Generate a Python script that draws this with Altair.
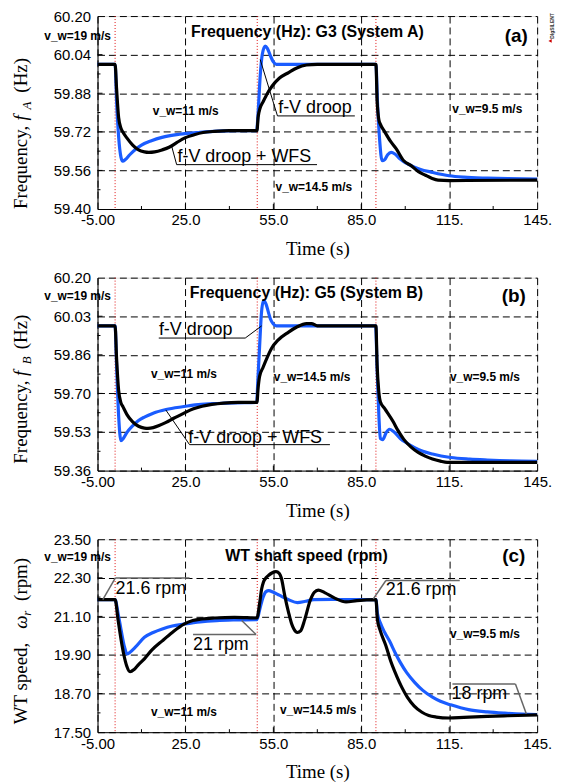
import altair as alt
import pandas as pd

# ---------------- data ----------------
X_DOMAIN = [-5, 145]
X_TICKS = [-5, 25, 55, 85, 115, 145]
X_MINOR = [10, 40, 70, 100, 130]
EVENTS = [1, 49.5, 90]

# Panel (a): frequency G3, System A
A_BLUE_T = [-5, 1.0, 1.5, 2.2, 3.0, 3.6, 4.5, 6, 8, 10, 13.4, 17, 23, 30, 36, 42, 49.3, 49.8, 50.5, 51.2, 52.2, 53, 54, 55, 56, 60, 90, 90.5, 91.3, 92.1, 93, 94, 95.2, 96.5, 98.3, 100, 102, 105, 109.3, 115, 120, 128, 135, 145]
A_BLUE_V = [60.0, 60.0, 59.85, 59.70, 59.615, 59.598, 59.605, 59.625, 59.648, 59.665, 59.683, 59.697, 59.71, 59.718, 59.723, 59.725, 59.725, 59.80, 59.95, 60.04, 60.076, 60.065, 60.035, 60.01, 60.0, 60.0, 60.0, 59.85, 59.68, 59.60, 59.605, 59.625, 59.635, 59.628, 59.607, 59.592, 59.58, 59.565, 59.552, 59.538, 59.532, 59.528, 59.526, 59.524]
A_BLACK_T = [-5, 1.0, 1.5, 2.2, 3.0, 3.6, 5, 7, 9, 11, 12.5, 14.5, 17, 19.6, 22, 24.8, 28, 31, 35, 40, 49.4, 49.8, 50.5, 51.5, 53, 54.6, 57, 60.2, 63, 66.3, 70, 90, 90.4, 91.0, 91.5, 93, 95, 97, 99.5, 102, 104.5, 106.9, 109, 111.2, 115, 145]
A_BLACK_V = [60.0, 60.0, 59.90, 59.78, 59.735, 59.72, 59.695, 59.665, 59.645, 59.637, 59.635, 59.637, 59.645, 59.657, 59.675, 59.695, 59.708, 59.717, 59.722, 59.725, 59.725, 59.78, 59.82, 59.845, 59.88, 59.91, 59.942, 59.966, 59.985, 59.997, 60.0, 60.0, 59.85, 59.77, 59.752, 59.72, 59.68, 59.648, 59.60, 59.58, 59.555, 59.54, 59.528, 59.52, 59.518, 59.52]
A_Y_DOMAIN = [59.40, 60.20]
A_Y_TICKS = [59.40, 59.56, 59.72, 59.88, 60.04, 60.20]
A_BOLD_TEXT = ["Frequency (Hz): G3 (System A)", "(a)", "v_w=19 m/s", "v_w=11 m/s", "v_w=14.5 m/s", "v_w=9.5 m/s"]
A_BOLD_T = [66.6, 137.9, -11.8, 25.1, 68.8, 128.0]
A_BOLD_V = [60.134, 60.118, 60.118, 59.807, 59.491, 59.814]
A_BOLD_SIZE = [16, 19, 12, 12, 12, 12]
A_BIG_TEXT = ["f-V droop", "f-V droop + WFS"]
A_BIG_T = [69.2, 45.1]
A_BIG_V = [59.817, 59.614]
A_LINE_T = [56.4, 56.4, 22.0, 22.0]
A_LINE_V = [59.786, 59.786, 59.584, 59.584]
A_LINE_T2 = [82.8, 50.5, 69.9, 20.2]
A_LINE_V2 = [59.786, 60.02, 59.584, 59.665]

# Panel (b): frequency G5, System B
B_BLUE_T = [-5, 1.0, 1.5, 2.2, 3.0, 3.8, 5, 7, 9, 11, 14, 18.4, 24, 29.4, 36, 42, 49.3, 49.7, 50.3, 50.9, 51.6, 52.5, 53.3, 54, 55, 56, 60, 89.9, 90.4, 91, 91.5, 92.3, 93.5, 94.6, 96, 98.3, 100.5, 103.2, 106, 109.3, 115.5, 122, 128, 136, 145]
B_BLUE_V = [59.99, 59.99, 59.82, 59.60, 59.49, 59.50, 59.525, 59.555, 59.578, 59.593, 59.61, 59.626, 59.638, 59.647, 59.652, 59.655, 59.657, 59.75, 59.90, 60.04, 60.10, 60.085, 60.05, 60.02, 59.998, 59.99, 59.99, 59.99, 59.80, 59.60, 59.50, 59.495, 59.525, 59.54, 59.53, 59.50, 59.48, 59.46, 59.444, 59.432, 59.417, 59.41, 59.406, 59.402, 59.40]
B_BLACK_T = [-5, 1.0, 1.5, 2.2, 3.0, 3.6, 5, 7, 9, 11, 12.2, 14, 16, 18.4, 21, 24.5, 27.5, 30.7, 34, 38, 43, 49.4, 49.8, 50.3, 51.5, 52.8, 54.5, 56.5, 60.2, 63, 66.3, 68, 70, 90, 90.4, 91, 91.5, 93, 95.8, 97.5, 99.5, 102, 104.4, 107, 109.3, 112, 114.3, 145]
B_BLACK_V = [59.99, 59.99, 59.85, 59.71, 59.655, 59.64, 59.605, 59.572, 59.553, 59.545, 59.544, 59.547, 59.556, 59.57, 59.588, 59.61, 59.628, 59.64, 59.648, 59.654, 59.657, 59.657, 59.72, 59.77, 59.81, 59.85, 59.895, 59.927, 59.963, 59.985, 60.0, 60.0, 59.99, 59.99, 59.82, 59.70, 59.66, 59.63, 59.575, 59.535, 59.496, 59.462, 59.439, 59.422, 59.41, 59.401, 59.396, 59.396]
B_Y_DOMAIN = [59.36, 60.20]
B_Y_TICKS = [59.36, 59.528, 59.696, 59.864, 60.032, 60.20]
B_BOLD_TEXT = ["Frequency (Hz): G5 (System B)", "(b)", "v_w=19 m/s", "v_w=11 m/s", "v_w=14.5 m/s", "v_w=9.5 m/s"]
B_BOLD_T = [66.3, 137.0, -11.8, 24.5, 68.2, 127.2]
B_BOLD_V = [60.134, 60.12, 60.12, 59.782, 59.768, 59.768]
B_BOLD_SIZE = [16, 19, 12, 12, 12, 12]
B_BIG_TEXT = ["f-V droop", "f-V droop + WFS"]
B_BIG_T = [28.5, 48.8]
B_BIG_V = [59.973, 59.502]
B_LINE_T = [15.9, 45.4, 26.4, 26.4]
B_LINE_V = [59.937, 59.937, 59.473, 59.473]
B_LINE_T2 = [45.4, 51.0, 74.3, 18.3]
B_LINE_V2 = [59.937, 59.99, 59.473, 59.624]

# Panel (c): WT shaft speed
C_BLUE_T = [-5, 1.0, 2, 3, 4.2, 5.1, 6, 8, 11, 14, 17.1, 20.5, 24.5, 30, 35.6, 42, 49.4, 50.3, 51.5, 52.5, 53.4, 55, 57, 60.2, 63.2, 66, 68.8, 75, 80, 90, 90.5, 91.5, 93, 94.6, 96.5, 98.3, 100.5, 103.2, 106, 109.3, 112, 115.5, 121.6, 128, 133.9, 140, 145]
C_BLUE_V = [21.62, 21.62, 21.2, 20.7, 20.15, 19.93, 19.98, 20.15, 20.45, 20.6, 20.71, 20.8, 20.86, 20.93, 20.97, 20.99, 21.0, 21.3, 21.7, 21.87, 21.9, 21.85, 21.76, 21.62, 21.53, 21.57, 21.62, 21.63, 21.62, 21.62, 21.2, 20.9, 20.6, 20.34, 19.98, 19.67, 19.35, 19.05, 18.8, 18.59, 18.46, 18.35, 18.2, 18.13, 18.09, 18.06, 18.05]
C_BLACK_T = [-5, 1.0, 2, 3, 4, 5, 6.1, 7.5, 9, 11, 13.5, 17.1, 20.5, 24.5, 27.5, 30.7, 35, 41.7, 46, 49.4, 50.3, 51.0, 51.6, 52.5, 53.4, 54.5, 55.9, 57, 57.7, 58.9, 60.2, 61.2, 62, 63.2, 64.3, 65.7, 67.5, 69, 70.3, 72.5, 76.1, 79.8, 83.5, 90, 90.5, 91.5, 93.4, 95, 97, 98.8, 100.7, 103, 105.7, 108, 110.6, 114.9, 120, 128, 135, 145]
C_BLACK_V = [21.62, 21.62, 21.0, 20.4, 19.9, 19.55, 19.38, 19.45, 19.6, 19.78, 20.05, 20.34, 20.6, 20.86, 20.97, 21.02, 21.05, 21.07, 21.06, 21.05, 21.5, 21.95, 22.16, 22.3, 22.38, 22.45, 22.49, 22.44, 22.3, 21.74, 21.22, 20.88, 20.71, 20.60, 20.65, 21.0, 21.58, 21.85, 21.92, 21.84, 21.66, 21.55, 21.59, 21.62, 21.0, 20.65, 20.19, 19.72, 19.26, 18.9, 18.59, 18.32, 18.12, 18.02, 17.97, 17.94, 17.96, 17.99, 18.01, 18.04]
C_Y_DOMAIN = [17.5, 23.5]
C_Y_TICKS = [17.5, 18.7, 19.9, 21.1, 22.3, 23.5]
C_BOLD_TEXT = ["WT shaft speed (rpm)", "(c)", "v_w=19 m/s", "v_w=9.5 m/s", "v_w=11 m/s", "v_w=14.5 m/s"]
C_BOLD_T = [66.3, 137.0, -11.8, 127.2, 24.5, 70.3]
C_BOLD_V = [22.99, 22.99, 22.96, 20.556, 18.14, 18.19]
C_BOLD_SIZE = [16, 19, 12, 12, 12, 12]
C_BIG_TEXT = ["21.6 rpm", "21 rpm", "21.6 rpm", "18 rpm"]
C_BIG_T = [13.2, 37.1, 105.4, 125.3]
C_BIG_V = [21.936, 20.214, 21.905, 18.69]
C_LINE_T = [1.1, 1.1, 27.6, 49.1, 93.4, 93.4, 116.1, 137.6]
C_LINE_V = [22.297, 22.297, 20.537, 20.537, 22.216, 22.216, 19.0, 19.0]
C_LINE_T2 = [26.4, -3.2, 49.1, 44.2, 118.6, 89.1, 137.6, 141.3]
C_LINE_V2 = [22.297, 21.625, 20.537, 20.97, 22.216, 21.644, 19.0, 18.07]

# ---------------- style ----------------
W, H = 442, 194
BLUE = "#1a5cff"
SANS = "Liberation Sans"
SERIF = "Liberation Serif"
X_LABEL_EXPR = ("datum.value < 0 ? '-5.00' : (datum.value >= 100 ? "
                "format(datum.value, 'd') + '.' : format(datum.value, '.1f'))")


def make_panel(blue_t, blue_v, black_t, black_v, ydom, yticks,
               bold_text, bold_t, bold_v, bold_size,
               big_text, big_t, big_v,
               line_t, line_v, line_t2, line_v2, line_color, line_width,
               ytitle, logo=False):
    xs = alt.Scale(domain=X_DOMAIN, nice=False, zero=False)
    ys = alt.Scale(domain=ydom, nice=False, zero=False)
    xaxis = alt.Axis(values=X_TICKS, grid=True, gridDash=[7, 4], gridColor="black",
                     gridWidth=1, gridOpacity=1, ticks=False, domainColor="black",
                     domainWidth=1, labelExpr=X_LABEL_EXPR, labelFont=SANS,
                     labelFontSize=15, labelColor="black", labelPadding=4,
                     labelFlush=False, labelOverlap=False, title="Time  (s)",
                     titleFont=SERIF, titleFontSize=19, titleFontWeight="normal",
                     titleColor="black", titlePadding=12)
    yaxis = alt.Axis(values=yticks, grid=True, gridDash=[7, 4], gridColor="black",
                     gridWidth=1, gridOpacity=1, ticks=False, domainColor="black",
                     domainWidth=1, format=".2f", labelFont=SANS, labelFontSize=15,
                     labelColor="black", labelPadding=7, labelFlush=False,
                     labelOverlap=False, title=None)
    X = alt.X("t:Q", scale=xs, axis=xaxis)
    Y = alt.Y("v:Q", scale=ys, axis=yaxis)

    blue_df = pd.DataFrame({"t": blue_t, "v": blue_v})
    black_df = pd.DataFrame({"t": black_t, "v": black_v})
    ev_df = pd.DataFrame({"t": EVENTS})
    bold_df = pd.DataFrame({"t": bold_t, "v": bold_v, "txt": bold_text, "fs": bold_size})
    big_df = pd.DataFrame({"t": big_t, "v": big_v, "txt": big_text})
    ln_df = pd.DataFrame({"t": line_t, "v": line_v, "t2": line_t2, "v2": line_v2})
    xmaj = pd.DataFrame({"t": X_TICKS[1:-1]})
    xmin = pd.DataFrame({"t": X_MINOR})
    ymaj = pd.DataFrame({"v": yticks[1:-1]})
    step = yticks[1] - yticks[0]
    ymin = pd.DataFrame({"v": [y + step / 2 for y in yticks[:-1]]})

    layers = []
    layers.append(alt.Chart(ev_df).mark_rule(color="#e01010", strokeDash=[1, 2], strokeWidth=1)
                  .encode(x=X))
    layers.append(alt.Chart(blue_df).mark_line(color=BLUE, strokeWidth=3.2, interpolate="monotone")
                  .encode(x=X, y=Y))
    layers.append(alt.Chart(black_df).mark_line(color="black", strokeWidth=3.2, interpolate="monotone")
                  .encode(x=X, y=Y))
    layers.append(alt.Chart(ln_df).mark_rule(color=line_color, strokeWidth=line_width)
                  .encode(x=X, y=Y, x2="t2:Q", y2="v2:Q"))
    layers.append(alt.Chart(bold_df).mark_text(font=SANS, fontWeight="bold", color="black",
                                               align="center", baseline="middle")
                  .encode(x=X, y=Y, text="txt:N", size=alt.Size("fs:Q", scale=None, legend=None)))
    layers.append(alt.Chart(big_df).mark_text(font=SANS, fontSize=18, color="black",
                                              align="center", baseline="middle")
                  .encode(x=X, y=Y, text="txt:N"))
    # inward tick marks
    layers.append(alt.Chart(xmaj).mark_rule(color="black").encode(x=X, y=alt.value(H), y2=alt.value(H - 5)))
    layers.append(alt.Chart(xmin).mark_rule(color="black").encode(x=X, y=alt.value(H), y2=alt.value(H - 3)))
    layers.append(alt.Chart(ymaj).mark_rule(color="black").encode(y=Y, x=alt.value(0), x2=alt.value(5)))
    layers.append(alt.Chart(ymin).mark_rule(color="black").encode(y=Y, x=alt.value(0), x2=alt.value(3)))
    # rotated y-axis title composed of segments
    one = pd.DataFrame({"k": [0]})
    for txt, style, fs, ypos, xpos in ytitle:
        layers.append(alt.Chart(one).mark_text(text=txt, font=SERIF, fontSize=fs, fontStyle=style,
                                               angle=270, align="left", baseline="alphabetic",
                                               color="black")
                      .encode(x=alt.value(xpos), y=alt.value(ypos)))
    if logo:
        layers.append(alt.Chart(one).mark_text(text="DIgSILENT", font=SANS, fontSize=5,
                                               fontWeight="bold", angle=270, align="center",
                                               baseline="middle", color="#333333")
                      .encode(x=alt.value(457), y=alt.value(10)))
        layers.append(alt.Chart(one).mark_point(shape="triangle-left", filled=True, size=14,
                                                color="#cc0000", opacity=1)
                      .encode(x=alt.value(455), y=alt.value(25)))
    return alt.layer(*layers).properties(width=W, height=H)


pa = make_panel(A_BLUE_T, A_BLUE_V, A_BLACK_T, A_BLACK_V, A_Y_DOMAIN, A_Y_TICKS,
                A_BOLD_TEXT, A_BOLD_T, A_BOLD_V, A_BOLD_SIZE,
                A_BIG_TEXT, A_BIG_T, A_BIG_V,
                A_LINE_T, A_LINE_V, A_LINE_T2, A_LINE_V2, "black", 1,
                [("Frequency,", "normal", 19, 194, -71), ("f", "italic", 19, 105, -71),
                 ("A", "italic", 13, 94, -67), ("(Hz)", "normal", 19, 77, -71)], logo=True)
pb = make_panel(B_BLUE_T, B_BLUE_V, B_BLACK_T, B_BLACK_V, B_Y_DOMAIN, B_Y_TICKS,
                B_BOLD_TEXT, B_BOLD_T, B_BOLD_V, B_BOLD_SIZE,
                B_BIG_TEXT, B_BIG_T, B_BIG_V,
                B_LINE_T, B_LINE_V, B_LINE_T2, B_LINE_V2, "black", 1,
                [("Frequency,", "normal", 19, 187, -71), ("f", "italic", 19, 99, -71),
                 ("B", "italic", 13, 87, -67), ("(Hz)", "normal", 19, 72, -71)])
pc = make_panel(C_BLUE_T, C_BLUE_V, C_BLACK_T, C_BLACK_V, C_Y_DOMAIN, C_Y_TICKS,
                C_BOLD_TEXT, C_BOLD_T, C_BOLD_V, C_BOLD_SIZE,
                C_BIG_TEXT, C_BIG_T, C_BIG_V,
                C_LINE_T, C_LINE_V, C_LINE_T2, C_LINE_V2, "#666666", 1.5,
                [("WT  speed,", "normal", 19, 186, -71), ("ω", "italic", 19, 90, -71),
                 ("r", "italic", 13, 77, -67), ("(rpm)", "normal", 19, 62, -71)])

chart = (alt.vconcat(pa, pb, pc, spacing=10)
         .properties(padding={"left": 3, "top": -2, "right": 5, "bottom": 0})
         .configure_view(stroke="black", strokeDash=[7, 4], strokeWidth=1)
         .configure(background="white"))

chart.save("out.html", embed_options={"renderer": "svg", "actions": False})
